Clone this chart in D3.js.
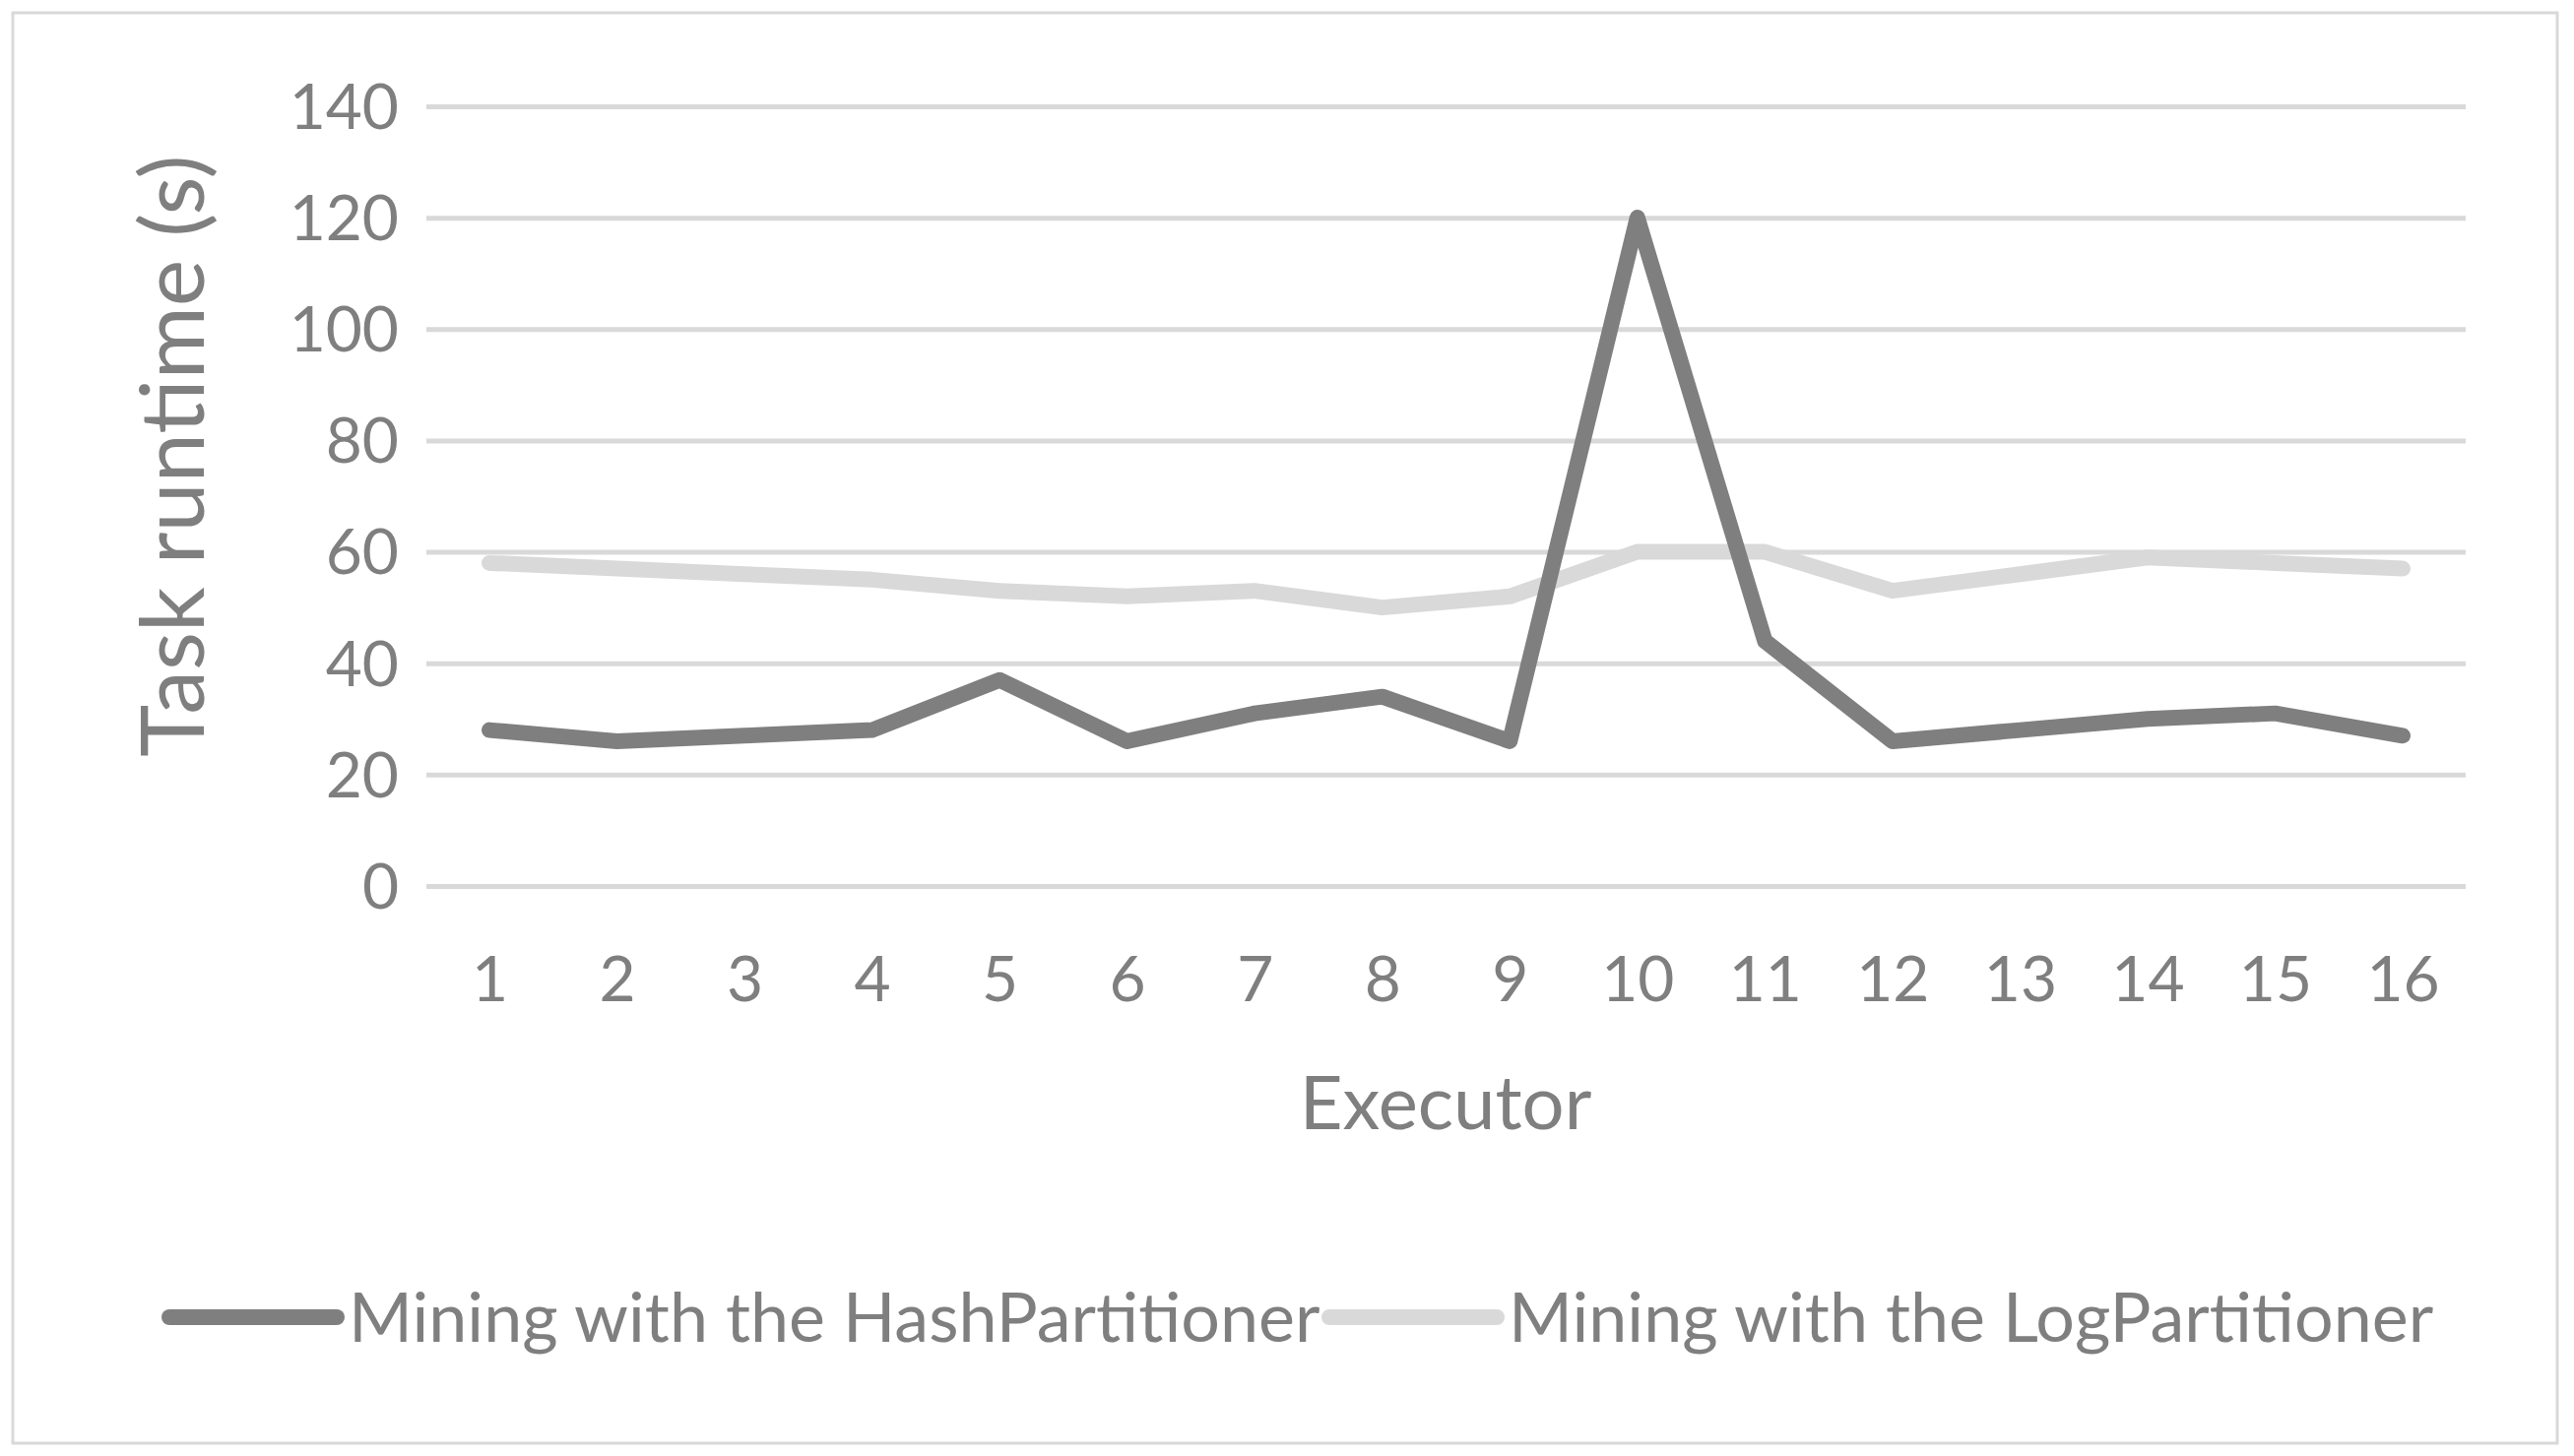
<!DOCTYPE html><html><head><script src="https://cdn.jsdelivr.net/npm/d3@7"></script>
<style>body{margin:0;background:#fff}text{font-family:Lato,"Open Sans",sans-serif;fill:#7f7f7f}</style></head><body>
<svg id="c" width="2614" height="1479"></svg>
<script>
const executors=[1,2,3,4,5,6,7,8,9,10,11,12,13,14,15,16];
const hashValues=[28,26,27,28,37,26,31,34,26,120,44,26,28,30,31,27];
const logValues=[58,57,56,55,53,52,53,50,52,60,60,53,56,59,58,57];
const yTicks=[0,20,40,60,80,100,120,140];
const svg=d3.select("#c");
svg.append("rect").attr("x",13).attr("y",13).attr("width",2584).attr("height",1453).attr("fill","none").attr("stroke","#d9d9d9").attr("stroke-width",3);
const x=d3.scalePoint().domain(executors).range([497,2440]);
const y=d3.scaleLinear().domain([0,140]).range([900,108]);
const ya=svg.append("g").attr("transform","translate(433,0)").call(d3.axisLeft(y).tickValues(yTicks).tickSize(-2071).tickPadding(28));
ya.select(".domain").remove();
ya.selectAll("line").attr("stroke","#d9d9d9").attr("stroke-width",5);
ya.selectAll("text").style("font-size","64px").attr("dy","0.35em");
const xa=svg.append("g").attr("transform","translate(0,900)").call(d3.axisBottom(x).tickSize(0).tickPadding(72));
xa.select(".domain").remove();
xa.selectAll("text").style("font-size","64px");
const line=d3.line().x((d,i)=>x(executors[i])).y(d=>y(d));
svg.append("path").datum(logValues).attr("d",line).attr("fill","none").attr("stroke","#d9d9d9").attr("stroke-width",16).attr("stroke-linejoin","round").attr("stroke-linecap","round");
svg.append("path").datum(hashValues).attr("d",line).attr("fill","none").attr("stroke","#7f7f7f").attr("stroke-width",16).attr("stroke-linejoin","round").attr("stroke-linecap","round");
svg.append("text").attr("x",1468).attr("y",1120).attr("text-anchor","middle").attr("dy","0.35em").style("font-size","76px").text("Executor");
svg.append("text").attr("transform","translate(175,463) rotate(-90)").attr("text-anchor","middle").attr("dy","0.35em").style("font-size","90px").text("Task runtime (s)");
const leg=[["Mining with the HashPartitioner","#7f7f7f",172],["Mining with the LogPartitioner","#d9d9d9",1350]];
leg.forEach(([t,c,x0])=>{svg.append("line").attr("x1",x0).attr("x2",x0+170).attr("y1",1338).attr("y2",1338).attr("stroke",c).attr("stroke-width",16).attr("stroke-linecap","round");
svg.append("text").attr("x",x0+182).attr("y",1338).attr("dy","0.35em").style("font-size","70px").text(t);});
</script></body></html>
